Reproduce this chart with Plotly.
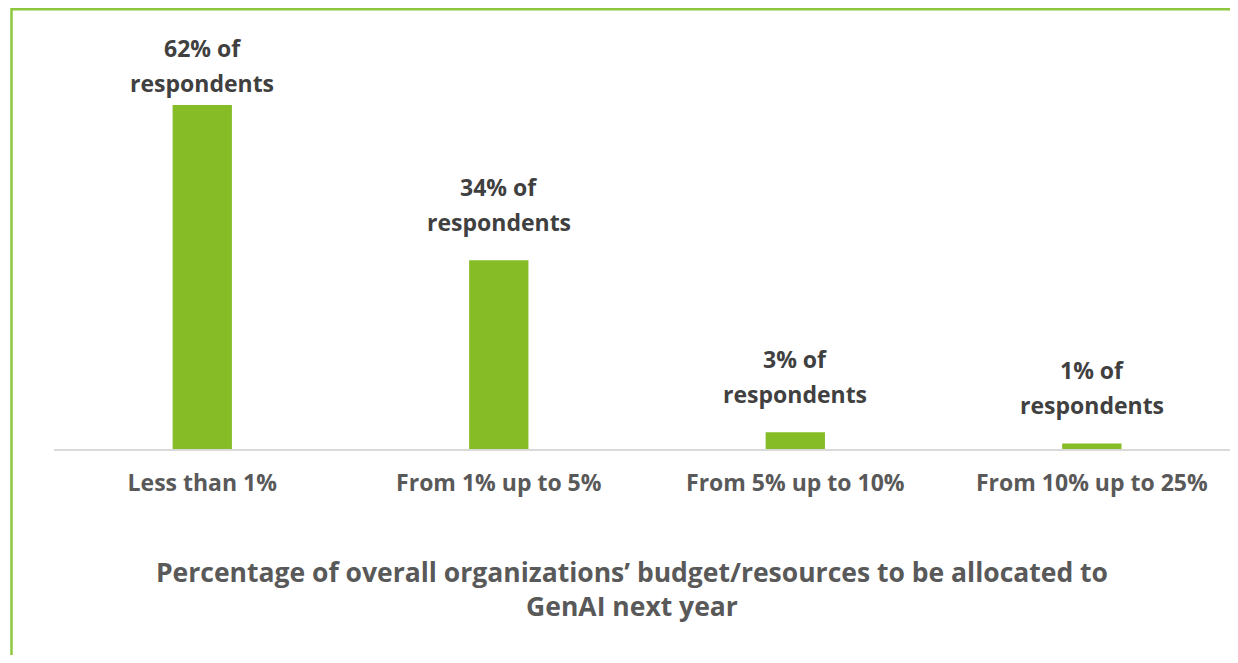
import plotly.graph_objects as go

categories = ["Less than 1%", "From 1% up to 5%", "From 5% up to 10%", "From 10% up to 25%"]
values = [62, 34, 3, 1]
labels = ["62% of<br>respondents", "34% of<br>respondents", "3% of<br>respondents", "1% of<br>respondents"]
title_text = "Percentage of overall organizations’ budget/resources to be allocated to<br>GenAI next year"

GREEN = "#86BC25"
FONT = "Open Sans"

# The page body has an 8px margin, so the figure is sized to fit the window without scrolling.
W, H = 1222, 647
ml, mt, mb = 46, 12, 206
pw = W - ml
ph = H - mt - mb
YMAX = 77.3
ppu = ph / YMAX            # pixels per value unit
GAP = 38                   # bar top -> centre of the lower label line
LINE = 35                  # spacing between the two label lines
MAX_LOW = 366              # highest allowed centre of the lower line above the axis

fig = go.Figure()
fig.add_trace(go.Bar(x=categories, y=values, marker=dict(color=GREEN, line=dict(width=0)),
                     width=0.2, hoverinfo="skip"))

lab_font = dict(family=FONT, size=23, color="#404040", weight="bold")
for c, v, t in zip(categories, values, labels):
    top_line, low_line = t.split("<br>")
    shift = min(v * ppu + GAP, MAX_LOW) - v * ppu
    fig.add_annotation(x=c, y=v, text=low_line, showarrow=False, yanchor="middle",
                       yshift=shift, font=lab_font)
    fig.add_annotation(x=c, y=v, text=top_line, showarrow=False, yanchor="middle",
                       yshift=shift + LINE, font=lab_font)

fig.add_shape(type="rect", xref="paper", yref="paper",
              x0=(3.5 - ml) / pw, x1=1.2, y0=-1.0, y1=(H - mb - 1.2) / ph,
              line=dict(color="#8DC63F", width=2.5), fillcolor="rgba(0,0,0,0)", layer="below")

fig.update_layout(
    width=W, height=H,
    margin=dict(l=ml, r=0, t=mt, b=mb),
    plot_bgcolor="white", paper_bgcolor="white",
    showlegend=False,
    title=dict(text=title_text, x=624 / W, xref="container", xanchor="center",
               y=(H - 574) / H, yref="container", yanchor="middle",
               font=dict(family=FONT, size=26.5, color="#595959", weight="bold")),
    xaxis=dict(showline=True, linecolor="#D9D9D9", linewidth=2, showgrid=False,
               range=[-0.5, 3.466], ticks="", ticklabelstandoff=12,
               tickfont=dict(family=FONT, size=23, color="#595959", weight="bold")),
    yaxis=dict(visible=False, range=[0, YMAX], showgrid=False, zeroline=False),
)

fig.write_html("out.html")
